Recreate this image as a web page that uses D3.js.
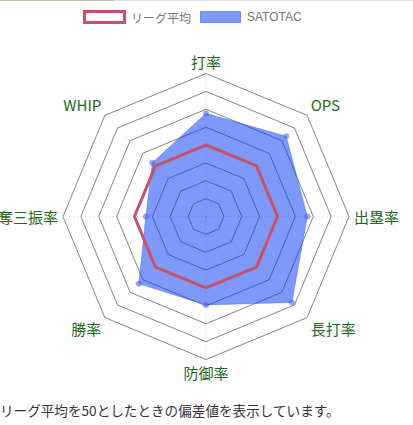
<!DOCTYPE html>
<html><head><meta charset="utf-8">
<script src="https://cdn.jsdelivr.net/npm/d3@7"></script>
<style>
html,body{margin:0;padding:0;background:#fff;}
svg{display:block;}
</style></head>
<body>
<svg id="chart" width="413" height="425"></svg>
<script>
const categories = ["打率","OPS","出塁率","長打率","防御率","勝率","奪三振率","WHIP"];
const leagueValues = [50,50,50,50,50,50,50,50];
const playerValues = [67.7,73.5,66.7,78,59.5,63.2,43.7,52.5];
const seriesNames = ["リーグ平均","SATOTAC"];
const ringTicks = [20,30,40,50,60,70,80,90];
const footerText = "リーグ平均を50としたときの偏差値を表示しています。";

const svg = d3.select("#chart");
const cx = 206, cy = 216.5, R = 143;
const r = d3.scaleLinear().domain([10,90]).range([0,R]);
const n = categories.length;
const ang = d3.scaleLinear().domain([0,n]).range([-Math.PI/2, 1.5*Math.PI]);
const pt = (i, rad) => [cx + rad*Math.cos(ang(i)), cy + rad*Math.sin(ang(i))];
const fontCJK = "'Noto Sans CJK JP','Noto Sans',sans-serif";

// top border strip
svg.append("rect").attr("x",0).attr("y",0).attr("width",413).attr("height",1).attr("fill","#dde3e3");
svg.append("rect").attr("x",0).attr("y",0).attr("width",114).attr("height",1).attr("fill","#c8b8a4");

const g = svg.append("g");
// angle lines
d3.range(n).forEach(i=>{
  const p = pt(i,R);
  g.append("line").attr("x1",cx).attr("y1",cy).attr("x2",p[0]).attr("y2",p[1])
    .attr("stroke","#c9d2d2").attr("stroke-width",1).attr("stroke-dasharray","1,3");
});
// rings
const ringLine = d3.line().curve(d3.curveLinearClosed);
ringTicks.forEach(t=>{
  g.append("path").attr("d", ringLine(d3.range(n).map(i=>pt(i,r(t)))))
    .attr("fill","none").attr("stroke","#858585").attr("stroke-width",1);
});

// player series
const playerPts = playerValues.map((v,i)=>pt(i,r(v)));
g.append("path").attr("d", ringLine(playerPts))
  .attr("fill","rgba(10,60,245,0.52)").attr("stroke","rgba(60,100,240,0.4)").attr("stroke-width",1);
playerPts.forEach(p=>{
  g.append("circle").attr("cx",p[0]).attr("cy",p[1]).attr("r",3).attr("fill","rgba(70,100,235,0.55)");
});

// league series
const leaguePts = leagueValues.map((v,i)=>pt(i,r(v)));
g.append("path").attr("d", ringLine(leaguePts))
  .attr("fill","none").attr("stroke","#c4526a").attr("stroke-width",3).attr("stroke-linejoin","miter");

// point labels
const fs = 15;
categories.forEach((c,i)=>{
  const p = pt(i, R+5);
  const deg = (i*360/n);
  let anchor = "middle";
  if (deg>0 && deg<180) anchor = "start"; else if (deg>180) anchor = "end";
  let yTop;
  if (deg===90 || deg===270) yTop = p[1]-fs/2;
  else if (deg>270 || deg<90) yTop = p[1]-fs;
  else yTop = p[1];
  svg.append("text").attr("x",p[0]).attr("y",yTop+fs/2)
    .attr("dominant-baseline","central").attr("text-anchor",anchor)
    .attr("font-family",fontCJK).attr("font-size",fs).attr("fill","#1a6a1a").text(c);
});

// legend
const legend = svg.append("g");
legend.append("rect").attr("x",84.5).attr("y",11.5).attr("width",40).attr("height",11)
  .attr("fill","#fff").attr("stroke","#c4526a").attr("stroke-width",3);
legend.append("text").attr("x",131).attr("y",17).attr("dominant-baseline","central")
  .attr("font-family",fontCJK).attr("font-size",12).attr("fill","#777").text(seriesNames[0]);
legend.append("rect").attr("x",200.5).attr("y",11.5).attr("width",40).attr("height",11)
  .attr("fill","rgba(10,60,245,0.52)").attr("stroke","rgba(60,100,240,0.6)").attr("stroke-width",1);
legend.append("text").attr("x",247).attr("y",17).attr("dominant-baseline","central")
  .attr("font-family","'Liberation Sans',Arial,sans-serif").attr("font-size",12).attr("fill","#777").text(seriesNames[1]);

// footer
svg.append("text").attr("x",0).attr("y",410).attr("dominant-baseline","central")
  .attr("font-family",fontCJK).attr("font-size",13.6).attr("fill","#3a2f3a").text(footerText);
</script>
</body></html>
